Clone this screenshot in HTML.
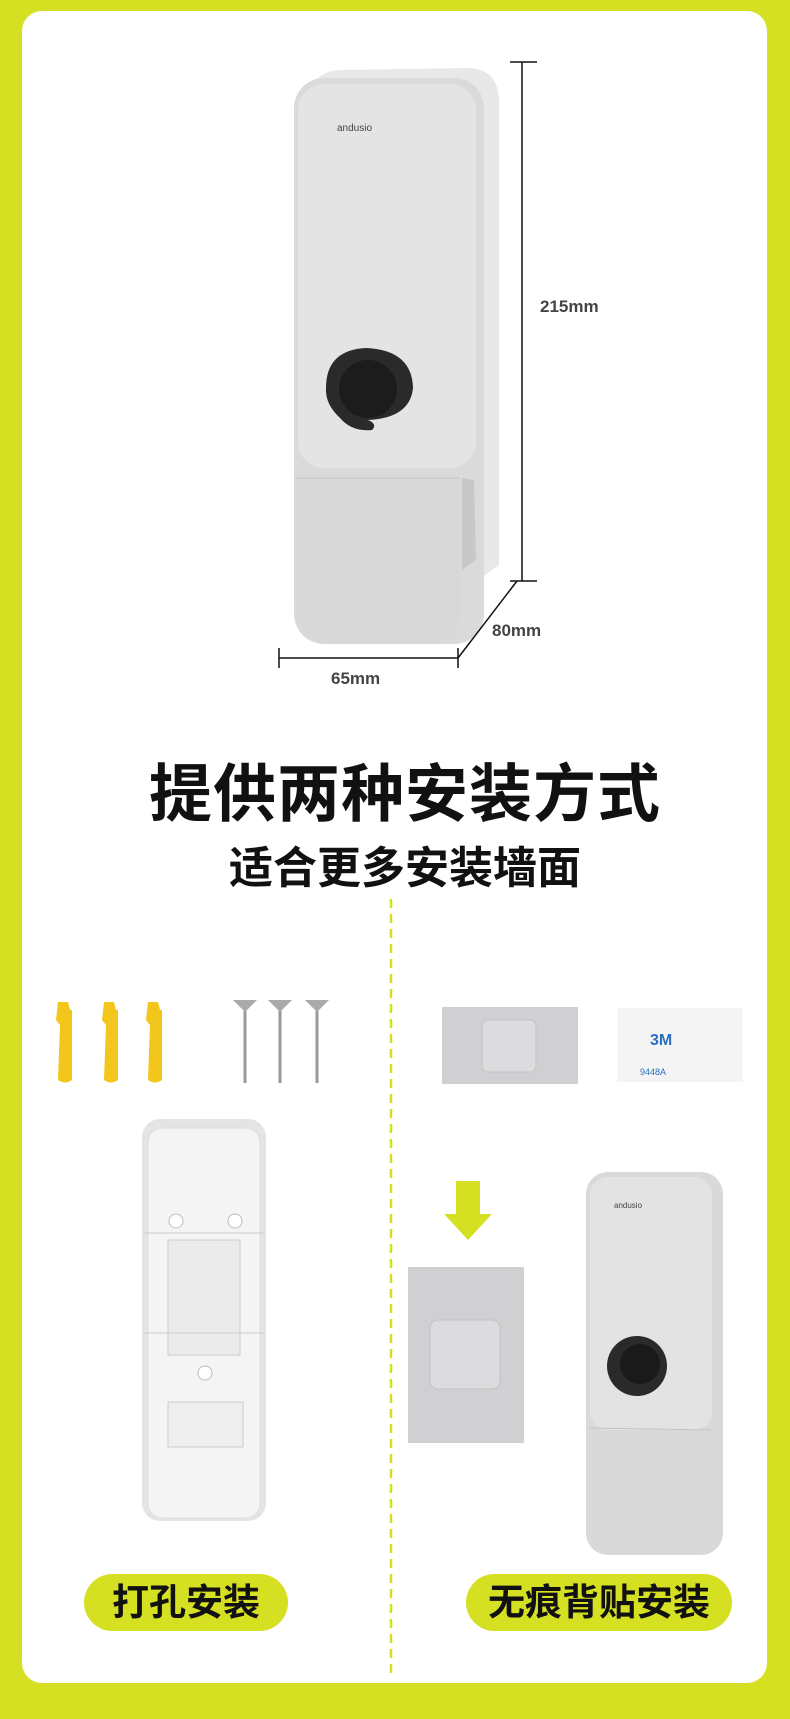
<!DOCTYPE html>
<html><head><meta charset="utf-8"><style>
body{margin:0;width:790px;height:1719px;background:#d6e022;position:relative;overflow:hidden;font-family:"Liberation Sans","Noto Sans CJK SC",sans-serif}
.card{position:absolute;left:22px;top:11px;width:745px;height:1672px;background:#fff;border-radius:20px}
.a{position:absolute}
.t{position:absolute;color:#444;font-weight:bold;font-size:17px}
.pill{position:absolute;background:#d6e022;border-radius:30px;height:57px;font-size:37px;font-weight:bold;color:#111;text-align:center;line-height:57px}
</style></head><body>
<div class="card"></div>
<svg class="a" style="left:0;top:0" width="790" height="1719">
 <path d="M310 100 Q310 72 340 70 L470 68 Q498 70 499 100 L499 565 L450 600 L450 570 Z" fill="#e8e8e8"/>
 <rect x="294" y="78" width="190" height="566" rx="30" fill="#dadada"/>
 <rect x="298" y="84" width="178" height="384" rx="26" fill="#e4e4e4"/>
 <path d="M294 478 L460 478 L460 615 Q460 642 430 644 L330 644 Q296 640 296 610 Z" fill="#d8d8d8"/>
 <line x1="296" y1="478" x2="460" y2="478" stroke="#c4c4c4"/>
 <path d="M462 478 L474 480 L476 560 L462 570 Z" fill="#c8c8c8"/>
 <text x="337" y="131" font-size="10" fill="#444" font-family="Liberation Sans">andusio</text>
 <path d="M368 420 Q378 424 372 430 Q352 432 340 418 Q325 404 326 388 Q326 350 366 348 Q412 350 413 388 Q410 418 368 420 Z" fill="#2a2a2a"/>
 <circle cx="368" cy="389" r="29" fill="#1c1c1c"/>
 <g stroke="#111" stroke-width="1.5" fill="none">
 <line x1="522" y1="62" x2="522" y2="581"/><line x1="510" y1="62" x2="537" y2="62"/><line x1="510" y1="581" x2="537" y2="581"/>
 <line x1="279" y1="658" x2="458" y2="658"/><line x1="279" y1="648" x2="279" y2="668"/><line x1="458" y1="648" x2="458" y2="668"/>
 <line x1="458" y1="658" x2="517" y2="581"/>
 </g>
 <line x1="391" y1="899" x2="391" y2="1677" stroke="#d6e022" stroke-width="2.5" stroke-dasharray="9,6"/>
 <g fill="#f2c61a">
 <path d="M58 1002 L68 1002 L70 1010 L72 1010 L72 1080 Q65 1085 58 1080 L60 1025 L56 1020 Z"/>
 <path d="M104 1002 L114 1002 L116 1010 L118 1010 L118 1080 Q111 1085 104 1080 L106 1025 L102 1020 Z"/>
 <path d="M148 1002 L158 1002 L160 1010 L162 1010 L162 1080 Q155 1085 148 1080 L150 1025 L146 1020 Z"/>
 </g>
 <g stroke="#999" stroke-width="3">
 <line x1="245" y1="1003" x2="245" y2="1083"/><line x1="280" y1="1003" x2="280" y2="1083"/><line x1="317" y1="1003" x2="317" y2="1083"/>
 </g>
 <g fill="#aaa"><path d="M233 1000 L257 1000 L245 1012Z"/><path d="M268 1000 L292 1000 L280 1012Z"/><path d="M305 1000 L329 1000 L317 1012Z"/></g>
 <rect x="442" y="1007" width="136" height="77" fill="#d0d0d2"/>
 <rect x="482" y="1020" width="54" height="52" rx="6" fill="#dcdcde" stroke="#c4c4c6"/>
 <rect x="617" y="1008" width="126" height="74" fill="#f4f4f4"/>
 <text x="650" y="1045" font-size="16" font-weight="bold" fill="#2a6fc0" font-family="Liberation Sans">3M</text>
 <text x="640" y="1075" font-size="9" fill="#2a6fc0" font-family="Liberation Sans">9448A</text>
 <rect x="142" y="1119" width="124" height="402" rx="18" fill="#e4e4e4"/>
 <rect x="148" y="1128" width="112" height="390" rx="14" fill="#f4f4f4" stroke="#ddd"/>
 <rect x="168" y="1240" width="72" height="115" fill="#ebebeb" stroke="#ccc"/>
 <line x1="144" y1="1233" x2="264" y2="1233" stroke="#ccc"/><line x1="144" y1="1333" x2="264" y2="1333" stroke="#ccc"/>
 <circle cx="176" cy="1221" r="7" fill="#fff" stroke="#bbb"/><circle cx="235" cy="1221" r="7" fill="#fff" stroke="#bbb"/><circle cx="205" cy="1373" r="7" fill="#fff" stroke="#bbb"/>
 <rect x="168" y="1402" width="75" height="45" fill="#eee" stroke="#ccc"/>
 <path d="M456 1181 L480 1181 L480 1214 L492 1214 L468 1240 L444 1214 L456 1214Z" fill="#d6e022"/>
 <rect x="408" y="1267" width="116" height="176" fill="#d0d0d2"/>
 <rect x="430" y="1320" width="70" height="69" rx="8" fill="#dcdcde" stroke="#c2c2c4"/>
 <rect x="586" y="1172" width="137" height="383" rx="22" fill="#d9d9d9"/>
 <rect x="590" y="1177" width="122" height="253" rx="18" fill="#e3e3e3"/>
 <line x1="590" y1="1428" x2="712" y2="1430" stroke="#c4c4c4"/>
 <text x="614" y="1208" font-size="8" fill="#444" font-family="Liberation Sans">andusio</text>
 <circle cx="637" cy="1366" r="30" fill="#2a2a2a"/><circle cx="640" cy="1364" r="20" fill="#1a1a1a"/>
</svg>
<div class="t" style="left:540px;top:297px">215mm</div>
<div class="t" style="left:492px;top:621px">80mm</div>
<div class="t" style="left:331px;top:669px">65mm</div>
<div class="a" style="left:10px;width:790px;top:744px;text-align:center;font-size:63px;font-weight:bold;color:#111;letter-spacing:1px">提供两种安装方式</div>
<div class="a" style="left:10px;width:790px;top:832px;text-align:center;font-size:44px;font-weight:bold;color:#111">适合更多安装墙面</div>
<div class="pill" style="left:84px;top:1574px;width:204px">打孔安装</div>
<div class="pill" style="left:466px;top:1574px;width:266px">无痕背贴安装</div>
</body></html>
